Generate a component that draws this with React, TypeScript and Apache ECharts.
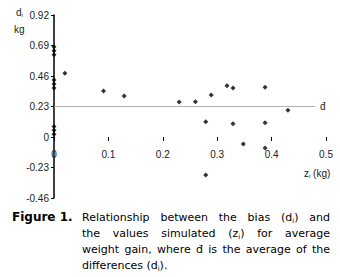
import React, { useEffect, useRef } from "react";
import * as echarts from "echarts";

const zValues = [0, 0, 0, 0, 0, 0, 0, 0, 0, 0.02, 0.091, 0.129, 0.23, 0.26, 0.289, 0.318, 0.329, 0.388, 0.43, 0.279, 0.329, 0.388, 0.348, 0.388, 0.279];
const dValues = [0.68, 0.65, 0.62, 0.43, 0.4, 0.37, 0.08, 0.05, 0.02, 0.48, 0.347, 0.309, 0.264, 0.266, 0.317, 0.387, 0.37, 0.375, 0.201, 0.115, 0.1, 0.108, -0.053, -0.083, -0.287];
const meanD = 0.23;
const meanLineEnd = 0.48;
const yTicks = [-0.46, -0.23, 0, 0.23, 0.46, 0.69, 0.92];
const xTicks = [0, 0.1, 0.2, 0.3, 0.4, 0.5];

const captionLines = [
  "Relationship between the bias (d_i) and",
  "the values simulated (z_i) for average",
  "weight gain, where đ is the average of the",
  "differences (d_i).",
];

const narrow = "'Liberation Sans Narrow', 'Liberation Sans', Arial, sans-serif";
const capFont = "'DejaVu Sans', Verdana, sans-serif";
const CAP_SIZE = 11;
const SUB_SIZE = 7;

const GRID_TOP = 15;
const GRID_BOTTOM_PX = 198;

function buildCaption(): any[] {
  const canvas = document.createElement("canvas");
  const ctx = canvas.getContext("2d")!;
  const measure = (t: string, size: number) => {
    ctx.font = `${size}px ${capFont}`;
    return ctx.measureText(t).width;
  };
  const left = 82;
  const right = 330;
  const tops = [212, 228, 244, 260];
  const out: any[] = [];
  captionLines.forEach((line, li) => {
    const words = line.split(" ");
    const widths = words.map((w) => {
      const parts = w.split(/_i/);
      let total = 0;
      parts.forEach((p, pi) => {
        total += measure(p, CAP_SIZE);
        if (pi < parts.length - 1) total += measure("i", SUB_SIZE);
      });
      return total;
    });
    const sum = widths.reduce((a, b) => a + b, 0);
    const justify = li < captionLines.length - 1;
    const gap = justify ? (right - left - sum) / (words.length - 1) : measure(" ", CAP_SIZE);
    let x = left;
    words.forEach((w, wi) => {
      out.push({
        type: "text",
        left: Math.round(x * 10) / 10,
        top: tops[li],
        style: {
          text: w.replace(/_i/g, "{s|i}"),
          font: `${CAP_SIZE}px ${capFont}`,
          fill: "#000",
          rich: { s: { fontSize: SUB_SIZE, fontFamily: capFont, padding: [6, 0, 0, 0] } },
        },
      });
      x += widths[wi] + gap;
    });
  });
  return out;
}

export default function App() {
  const ref = useRef<HTMLDivElement>(null);
  useEffect(() => {
    if (!ref.current) return;
    const chart = echarts.init(ref.current, undefined, { renderer: "svg" });
    const yMin = yTicks[0];
    const yMax = yTicks[yTicks.length - 1];
    // offset that places the x axis at value 0 of the y axis
    const zeroOffset = -((0 - yMin) / (yMax - yMin)) * (GRID_BOTTOM_PX - GRID_TOP);
    chart.setOption({
      animation: false,
      grid: { left: 54, right: 14, top: GRID_TOP, bottom: 277 - GRID_BOTTOM_PX },
      xAxis: {
        type: "value",
        position: "bottom",
        offset: zeroOffset,
        min: xTicks[0],
        max: xTicks[xTicks.length - 1],
        interval: 0.1,
        axisLine: { show: false, onZero: false },
        axisTick: { show: true, length: 4, lineStyle: { color: "#000" } },
        axisLabel: {
          margin: 12,
          fontSize: 10,
          fontFamily: narrow,
          color: "#222",
          formatter: (v: number) => (v === 0 ? "0" : v.toFixed(1)),
        },
        splitLine: { show: false },
      },
      yAxis: {
        type: "value",
        min: yMin,
        max: yMax,
        interval: 0.23,
        axisLine: { show: true, onZero: false, lineStyle: { color: "#000", width: 1.5 } },
        axisTick: { show: true, length: 3, lineStyle: { color: "#000" } },
        axisLabel: {
          margin: 5,
          fontSize: 10,
          fontFamily: narrow,
          color: "#222",
          formatter: (v: number) => (Math.abs(v) < 1e-9 ? "0" : v.toFixed(2)),
        },
        splitLine: { show: false },
      },
      series: [
        {
          type: "scatter",
          symbol: "diamond",
          symbolSize: 5,
          itemStyle: { color: "#000" },
          data: zValues.map((z, i) => [z, dValues[i]]),
          markLine: {
            symbol: "none",
            silent: true,
            lineStyle: { color: "#b0b0b0", width: 1, type: "solid" },
            label: {
              show: true,
              position: "end",
              formatter: "đ",
              fontFamily: narrow,
              fontSize: 10,
              color: "#222",
              distance: 5,
            },
            data: [[{ coord: [0, meanD] }, { coord: [meanLineEnd, meanD] }]],
          },
        },
      ],
      graphic: [
        {
          type: "text",
          left: 16,
          top: 7,
          style: {
            text: "d{s|i}",
            font: `10px ${narrow}`,
            fill: "#222",
            rich: { s: { fontSize: 6, fontFamily: narrow, padding: [5, 0, 0, 0] } },
          },
        },
        { type: "text", left: 14, top: 24, style: { text: "kg", font: `10px ${narrow}`, fill: "#222" } },
        {
          type: "text",
          left: 304,
          top: 168,
          style: {
            text: "z{s|i} (kg)",
            font: `10px ${narrow}`,
            fill: "#222",
            rich: { s: { fontSize: 6, fontFamily: narrow, padding: [5, 0, 0, 0] } },
          },
        },
        {
          type: "text",
          left: 12,
          top: 211,
          style: { text: "Figure 1.", font: `bold 12px ${capFont}`, fill: "#000" },
        },
        ...buildCaption(),
      ],
    });
    return () => chart.dispose();
  }, []);
  return (
    <div
      ref={ref}
      style={{ position: "fixed", left: 0, top: 0, width: 340, height: 277, background: "#fff" }}
    />
  );
}
